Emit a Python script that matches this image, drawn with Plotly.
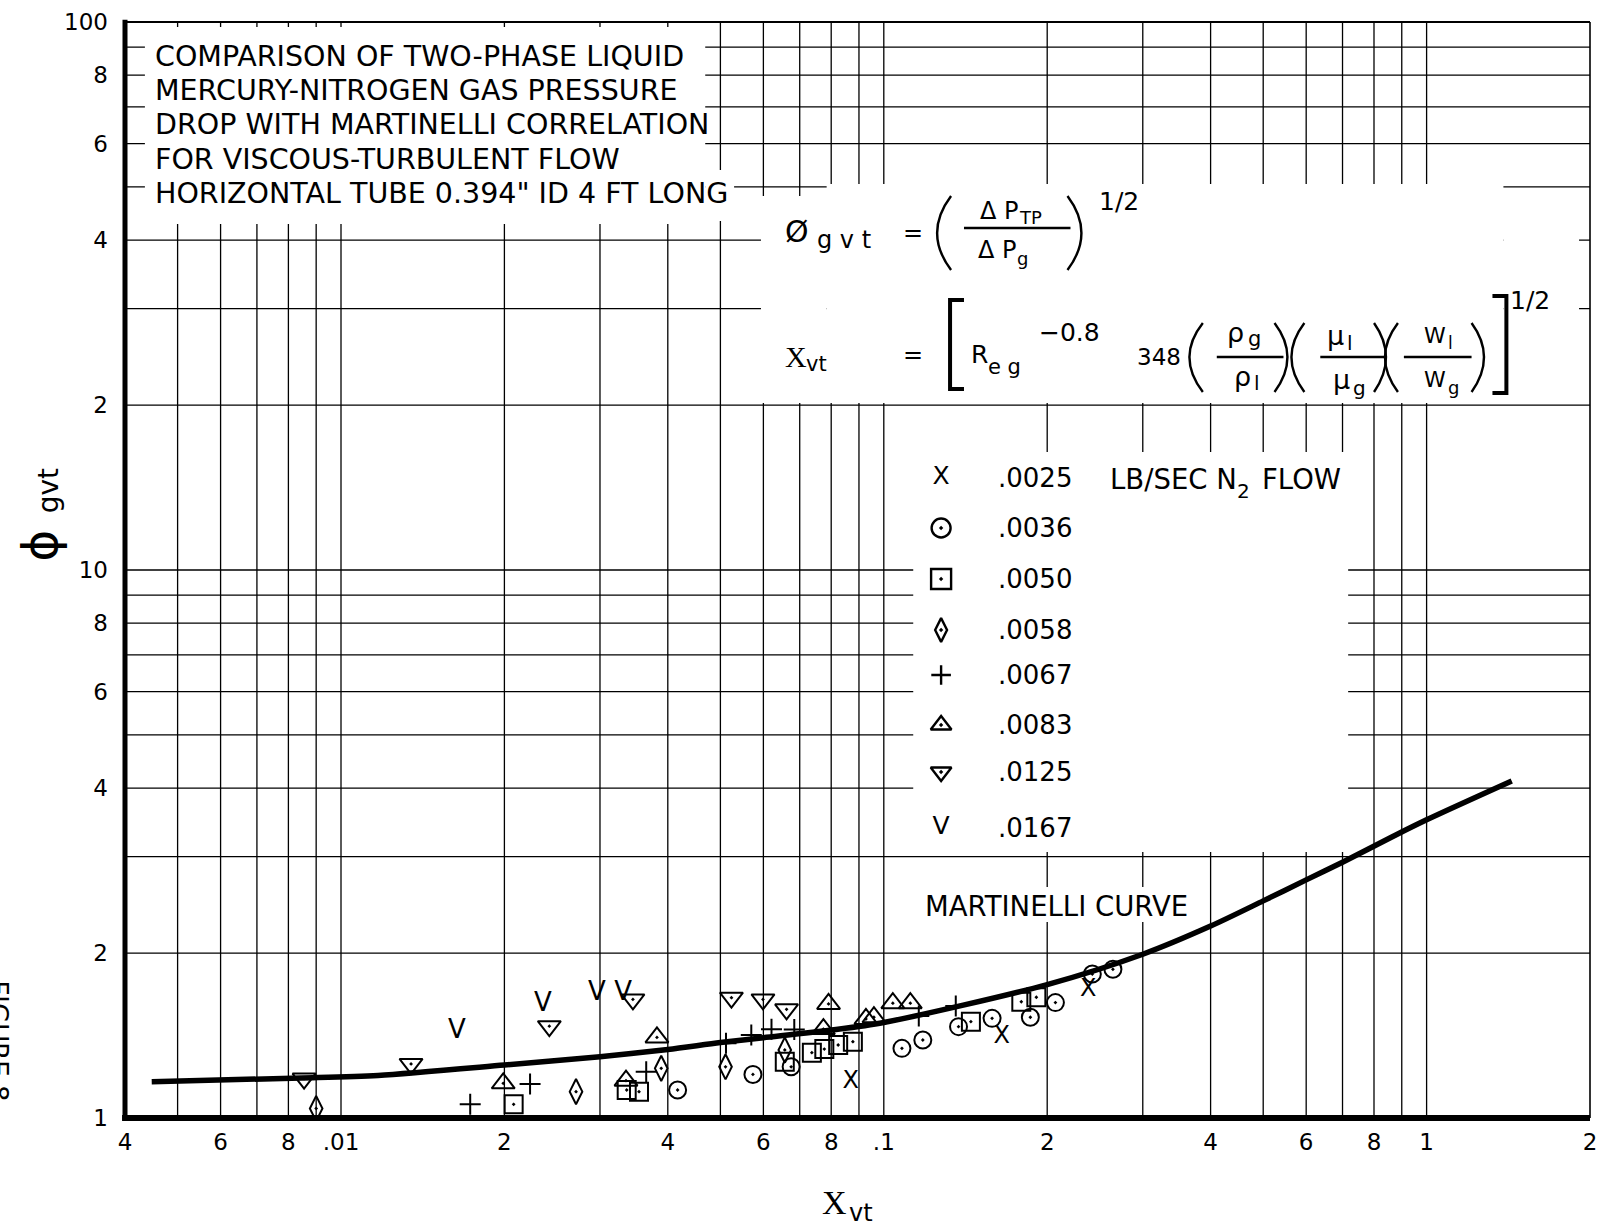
import math
import plotly.graph_objects as go

# ------------------------------------------------------------------
# Martinelli correlation curve (X_vt, phi_gvt)
curve_x = [0.00448, 0.00845, 0.0117, 0.02, 0.03, 0.04, 0.05, 0.06, 0.08, 0.1,
           0.2, 0.3, 0.4, 0.5, 0.6, 0.7, 0.87, 1.0, 1.435]
curve_y = [1.165, 1.183, 1.196, 1.249, 1.294, 1.334, 1.373, 1.401, 1.447, 1.494,
           1.752, 1.99, 2.24, 2.49, 2.72, 2.93, 3.27, 3.50, 4.12]

# Measured points, one series per N2 flow rate (lb/sec)
flow_labels = [".0025", ".0036", ".0050", ".0058", ".0067", ".0083", ".0125", ".0167"]

x_0025 = [0.0869, 0.165, 0.238]
y_0025 = [1.165, 1.407, 1.712]

x_0036 = [0.0417, 0.0574, 0.0675, 0.108, 0.118, 0.1373, 0.1583, 0.1862, 0.2071, 0.2422, 0.2643]
y_0036 = [1.125, 1.201, 1.240, 1.340, 1.388, 1.468, 1.520, 1.527, 1.624, 1.831, 1.868]

x_0050 = [0.0208, 0.0336, 0.0354, 0.0657, 0.0737, 0.0777, 0.0824, 0.0877, 0.1447, 0.1792, 0.191]
y_0050 = [1.059, 1.125, 1.117, 1.267, 1.316, 1.336, 1.359, 1.378, 1.499, 1.630, 1.661]

x_0058 = [0.009, 0.0271, 0.0389, 0.0511, 0.0657]
y_0058 = [1.041, 1.117, 1.232, 1.240, 1.331]

x_0067 = [0.0173, 0.0223, 0.0365, 0.0512, 0.0570, 0.0621, 0.0684, 0.116, 0.1357]
y_0067 = [1.059, 1.153, 1.215, 1.369, 1.417, 1.452, 1.45, 1.535, 1.601]

x_0083 = [0.0199, 0.0335, 0.0382, 0.0774, 0.0791, 0.0927, 0.0959, 0.1039, 0.1119]
y_0083 = [1.157, 1.17, 1.403, 1.453, 1.615, 1.516, 1.527, 1.62, 1.62]

x_0125 = [0.00855, 0.01346, 0.0242, 0.0345, 0.0524, 0.0599, 0.0662]
y_0125 = [1.18, 1.255, 1.471, 1.646, 1.658, 1.646, 1.579]

x_0167 = [0.01635, 0.02355, 0.0296, 0.0331]
y_0167 = [1.437, 1.608, 1.688, 1.688]

series_x = [x_0025, x_0036, x_0050, x_0058, x_0067, x_0083, x_0125, x_0167]
series_y = [y_0025, y_0036, y_0050, y_0058, y_0067, y_0083, y_0125, y_0167]

# Axis tick labels
x_tickvals = [0.004, 0.006, 0.008, 0.01, 0.02, 0.04, 0.06, 0.08, 0.1, 0.2, 0.4, 0.6, 0.8, 1, 2]
x_ticktext = ["4", "6", "8", ".01", "2", "4", "6", "8", ".1", "2", "4", "6", "8", "1", "2"]
y_tickvals = [1, 2, 4, 6, 8, 10, 20, 40, 60, 80, 100]
y_ticktext = ["1", "2", "4", "6", "8", "10", "2", "4", "6", "8", "100"]

title_lines = [
    "COMPARISON OF TWO-PHASE LIQUID",
    "MERCURY-NITROGEN GAS PRESSURE",
    "DROP WITH MARTINELLI CORRELATION",
    "FOR VISCOUS-TURBULENT FLOW",
    "HORIZONTAL TUBE 0.394\" ID 4 FT LONG",
]

# ------------------------------------------------------------------
# Page geometry
W, H = 1605, 1228
ML, MR, MT, MB = 125, 8, 22, 110
PW, PH = W - ML - MR, H - MT - MB
X_LO, X_HI = 0.004, 2.0
Y_LO, Y_HI = 1.0, 100.0
FONT = "DejaVu Sans"
SERIF = "Liberation Serif"


def fx(px):
    """page pixel column -> paper x"""
    return (px - ML) / PW


def fy(py):
    """page pixel row -> paper y"""
    return (H - MB - py) / PH


def gx(v):
    return (math.log10(v) - math.log10(X_LO)) / (math.log10(X_HI) - math.log10(X_LO))


def gy(v):
    return (math.log10(v) - math.log10(Y_LO)) / (math.log10(Y_HI) - math.log10(Y_LO))


def pt(p):
    return f"{fx(p[0]):.5f},{fy(p[1]):.5f}"


shapes = []

# log grid
xgrid = [k * 10.0 ** e for e in range(-3, 1) for k in range(1, 10)]
xgrid = [v for v in xgrid if X_LO * 1.001 < v < X_HI * 0.999]
ygrid = [k * 10.0 ** e for e in range(0, 2) for k in range(1, 10)]
ygrid = [v for v in ygrid if Y_LO * 1.001 < v < Y_HI * 0.999]
for v in xgrid:
    shapes.append(dict(type="line", xref="paper", yref="paper", x0=gx(v), x1=gx(v), y0=0, y1=1,
                       line=dict(color="black", width=1.3), layer="below"))
for v in ygrid:
    shapes.append(dict(type="line", xref="paper", yref="paper", x0=0, x1=1, y0=gy(v), y1=gy(v),
                       line=dict(color="black", width=1.3), layer="below"))

# blank panels behind the text blocks
blank_boxes = [
    (145, 27, 708, 224),
    (708, 170, 737, 221),
    (830, 184, 1510, 403),
    (764, 196, 830, 403),
    (1510, 196, 1586, 403),
    (917, 452, 1354, 852),
    (925, 887, 1195, 922),
]
for x0, y0, x1, y1 in blank_boxes:
    shapes.append(dict(type="rect", xref="paper", yref="paper", x0=fx(x0), x1=fx(x1),
                       y0=fy(y1), y1=fy(y0), fillcolor="white", line=dict(width=0),
                       layer="below"))

# frame: heavy left and bottom edges, light top and right
shapes += [
    dict(type="line", xref="paper", yref="paper", x0=0, x1=1, y0=1, y1=1,
         line=dict(color="black", width=1.8)),
    dict(type="line", xref="paper", yref="paper", x0=1, x1=1, y0=0, y1=1,
         line=dict(color="black", width=1.6)),
    dict(type="line", xref="paper", yref="paper", x0=0, x1=0, y0=-0.002, y1=1.002,
         line=dict(color="black", width=5)),
    dict(type="line", xref="paper", yref="paper", x0=-0.002, x1=1, y0=0, y1=0,
         line=dict(color="black", width=6)),
]

# formula: fraction bars, parentheses and brackets
bars = [(968, 1075, 228), (1222, 1289, 357), (1326, 1392, 357), (1410, 1478, 357)]
for a, b, yy in bars:
    shapes.append(dict(type="line", xref="paper", yref="paper", x0=fx(a), x1=fx(b),
                       y0=fy(yy), y1=fy(yy), line=dict(color="black", width=2.5)))
parens = [
    ((955, 196), (927, 233), (955, 270)),
    ((1072, 196), (1100, 233), (1072, 270)),
    ((1208, 323), (1181, 357), (1208, 392)),
    ((1280, 323), (1306, 357), (1280, 392)),
    ((1310, 323), (1284, 357), (1310, 392)),
    ((1380, 323), (1404, 357), (1380, 392)),
    ((1404, 323), (1378, 357), (1404, 392)),
    ((1478, 323), (1503, 357), (1478, 392)),
]
for p0, pc, p1 in parens:
    shapes.append(dict(type="path", xref="paper", yref="paper",
                       path=f"M {pt(p0)} Q {pt(pc)} {pt(p1)}",
                       line=dict(color="black", width=2.4)))
brackets = [
    [(968, 300), (954, 300), (954, 389), (968, 389)],
    [(1499, 296), (1513, 296), (1513, 393), (1499, 393)],
]
for pts in brackets:
    d = "M " + pt(pts[0]) + "".join(" L " + pt(p) for p in pts[1:])
    shapes.append(dict(type="path", xref="paper", yref="paper", path=d,
                       line=dict(color="black", width=4)))

# ------------------------------------------------------------------
fig = go.Figure()

fig.add_trace(go.Scatter(
    x=curve_x, y=curve_y, mode="lines",
    line=dict(color="black", width=5.5, shape="spline", smoothing=0.8),
    hoverinfo="skip", showlegend=False))

marker_styles = {
    ".0036": dict(symbol="circle-open-dot", size=17),
    ".0050": dict(symbol="square-open-dot", size=18),
    ".0058": dict(symbol="diamond-tall-open-dot", size=18),
    ".0067": dict(symbol="cross-thin-open", size=15),
    ".0083": dict(symbol="triangle-up-open-dot", size=20),
    ".0125": dict(symbol="triangle-down-open-dot", size=20),
}
legend_marker_sizes = {".0036": 19, ".0050": 20, ".0058": 17, ".0067": 14, ".0083": 18, ".0125": 18}
letter_marks = {".0025": ("X", 24), ".0167": ("V", 26)}

legend_rows = [478, 528, 579, 630, 675, 725, 772, 828]
legend_sym_x, legend_val_x = 945, 1000

for lab, xs, ys, row in zip(flow_labels, series_x, series_y, legend_rows):
    if lab in letter_marks:
        ch, sz = letter_marks[lab]
        fig.add_trace(go.Scatter(x=xs, y=ys, mode="text", text=[ch] * len(xs),
                                 textposition="middle center",
                                 textfont=dict(family=FONT, size=sz, color="black"),
                                 name=lab, showlegend=False))
        fig.add_trace(go.Scatter(x=[fx(legend_sym_x)], y=[fy(row)], xaxis="x2", yaxis="y2",
                                 mode="text", text=[ch], textposition="middle center",
                                 textfont=dict(family=FONT, size=25, color="black"),
                                 showlegend=False, hoverinfo="skip"))
    else:
        st = marker_styles[lab]
        fig.add_trace(go.Scatter(x=xs, y=ys, mode="markers",
                                 marker=dict(symbol=st["symbol"], size=st["size"], color="black",
                                             line=dict(color="black", width=2)),
                                 name=lab, showlegend=False))
        fig.add_trace(go.Scatter(x=[fx(legend_sym_x)], y=[fy(row)], xaxis="x2", yaxis="y2",
                                 mode="markers",
                                 marker=dict(symbol=st["symbol"], size=legend_marker_sizes[lab],
                                             color="black", line=dict(color="black", width=2.4)),
                                 showlegend=False, hoverinfo="skip"))

# ------------------------------------------------------------------
annotations = []


def note(text, px, py, size, xanchor="left", family=FONT, angle=0):
    annotations.append(dict(text=text, x=fx(px), y=fy(py), xref="paper", yref="paper",
                            xanchor=xanchor, yanchor="middle", showarrow=False,
                            textangle=angle, font=dict(family=family, size=size, color="black")))


for i, line in enumerate(title_lines):
    note(line, 153, 56 + 34.5 * i, 28.5)

for lab, row in zip(flow_labels, legend_rows):
    note(lab, legend_val_x, row, 26)
note("LB/SEC N", 1113, 479, 27.5)
note("2", 1240, 491, 20)
note("FLOW", 1265, 479, 27.5)
note("MARTINELLI CURVE", 927, 906, 27.5)

# formula block, first line
note("Ø", 800, 232, 30, xanchor="center")
note("g v t", 847, 240, 24, xanchor="center")
note("=", 917, 233, 24, xanchor="center")
note("Δ P", 982, 211, 24)
note("TP", 1021, 217, 18)
note("Δ P", 980, 250, 24)
note("g", 1019, 258, 18)
note("1/2", 1124, 201, 25, xanchor="center")

# formula block, second line
note("X", 786, 356, 30, family=SERIF)
note("vt", 807, 364, 21)
note("=", 917, 355, 24, xanchor="center")
note("R", 973, 355, 25)
note("e g", 990, 367, 21)
note("−0.8", 1041, 333, 25)
note("348", 1140, 357, 23)
note("ρ", 1230, 333, 27)
note("g", 1251, 339, 21)
note("ρ", 1237, 376, 27)
note("l", 1257, 383, 20)
note("μ", 1331, 336, 27)
note("l", 1351, 343, 20)
note("μ", 1337, 379, 27)
note("g", 1357, 388, 20)
note("W", 1428, 336, 22)
note("l", 1452, 343, 17)
note("W", 1428, 379, 22)
note("g", 1452, 387, 18)
note("1/2", 1537, 300, 25, xanchor="center")

# axis titles and page caption
note("X", 838, 1202, 34, xanchor="center", family=SERIF)
note("vt", 850, 1213, 24)
note("ϕ", 40, 545, 48, xanchor="center", angle=-90)
note("gvt", 48, 491, 28, xanchor="center", angle=-90)
note("FIGURE 8", -3, 1041, 26, xanchor="center", angle=90)

fig.update_layout(
    width=W, height=H,
    margin=dict(l=ML, r=MR, t=MT, b=MB, pad=0),
    paper_bgcolor="white", plot_bgcolor="white",
    showlegend=False, hovermode=False,
    shapes=shapes, annotations=annotations,
    xaxis=dict(type="log",
               range=[math.log10(X_LO) - 1e-9, math.log10(X_HI) + 1e-9],
               showgrid=False, zeroline=False, showline=False, ticks="",
               tickmode="array", tickvals=x_tickvals, ticktext=x_ticktext,
               tickfont=dict(family=FONT, size=23, color="black"),
               ticklabelstandoff=8, fixedrange=True),
    yaxis=dict(type="log",
               range=[math.log10(Y_LO) - 1e-9, math.log10(Y_HI) + 1e-9],
               showgrid=False, zeroline=False, showline=False, ticks="",
               tickmode="array", tickvals=y_tickvals, ticktext=y_ticktext,
               tickfont=dict(family=FONT, size=23, color="black"),
               ticklabelstandoff=16, fixedrange=True),
    xaxis2=dict(overlaying="x", range=[0, 1], visible=False, fixedrange=True),
    yaxis2=dict(overlaying="y", range=[0, 1], visible=False, fixedrange=True),
)

fig.write_html("out.html")
